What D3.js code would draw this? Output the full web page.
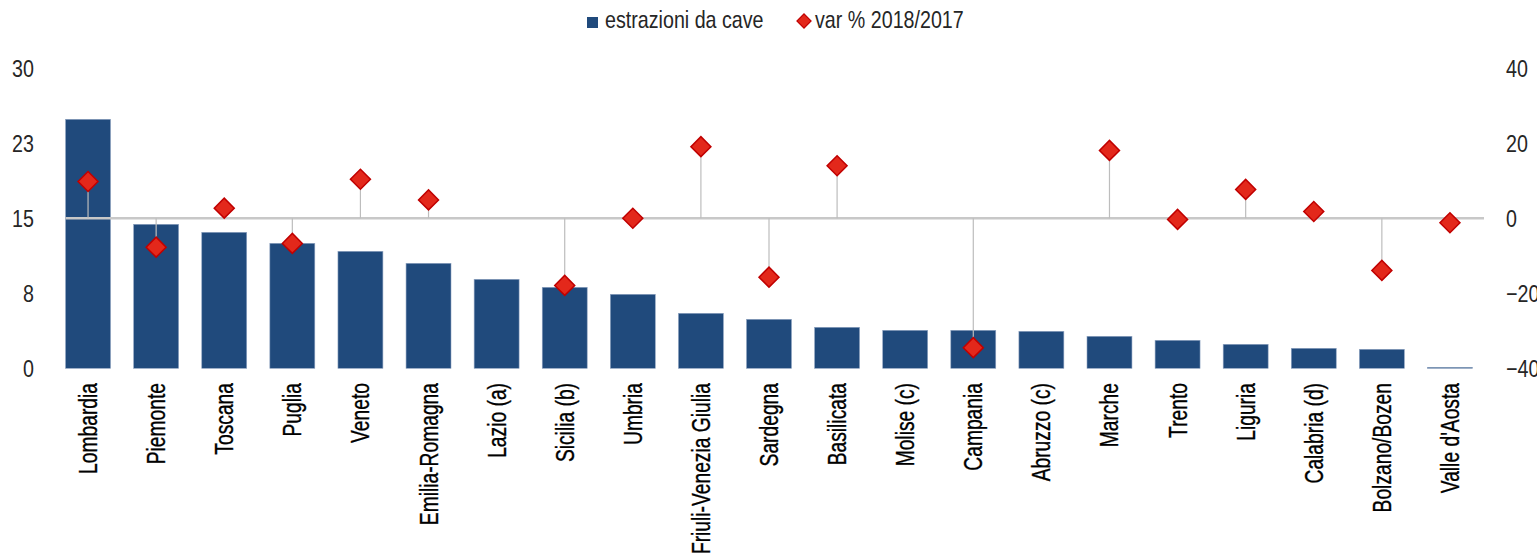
<!DOCTYPE html>
<html>
<head>
<meta charset="utf-8">
<script src="https://cdn.jsdelivr.net/npm/d3@7"></script>
<style>
  body { margin: 0; background: #fff; }
  text { font-family: "Liberation Sans", Arial, sans-serif; }
</style>
</head>
<body>
<div id="chart"></div>
<script>
// data
var regions = ["Lombardia", "Piemonte", "Toscana", "Puglia", "Veneto", "Emilia-Romagna",
  "Lazio (a)", "Sicilia (b)", "Umbria", "Friuli-Venezia Giulia", "Sardegna", "Basilicata",
  "Molise (c)", "Campania", "Abruzzo (c)", "Marche", "Trento", "Liguria", "Calabria (d)",
  "Bolzano/Bozen", "Valle d'Aosta"];
var estrazioni = [24.9, 14.4, 13.6, 12.5, 11.7, 10.5, 8.9, 8.1, 7.4, 5.5, 4.9, 4.1,
  3.8, 3.8, 3.7, 3.2, 2.8, 2.4, 2.0, 1.9, 0.1];
var variazione = [9.8, -7.7, 2.7, -6.7, 10.4, 4.9, null, -17.9, 0.0, 19.1, -15.7, 14.0,
  null, -34.5, null, 18.1, -0.3, 7.7, 1.8, -13.9, -1.2];
var leftTicks = [0, 7.5, 15, 22.5, 30];
var leftTickLabels = ["0", "8", "15", "23", "30"];
var rightTicks = [-40, -20, 0, 20, 40];
var legendLabels = ["estrazioni da cave", "var % 2018/2017"];

// size
var svgWidth = 1537;
var svgHeight = 556;
var narrow = 0.82; // Arial Narrow look

var plot = { left: 54, right: 1484, top: 68.3, bottom: 368.3 };

var svg = d3.select("#chart")
  .append("svg")
  .attr("width", svgWidth)
  .attr("height", svgHeight);

var xScale = d3.scaleBand()
  .domain(regions)
  .range([plot.left, plot.right])
  .paddingInner(0.34)
  .paddingOuter(0.17);

var yLeft = d3.scaleLinear().domain([0, 30]).range([plot.bottom, plot.top]);
var yRight = d3.scaleLinear().domain([-40, 40]).range([plot.bottom, plot.top]);

var rows = regions.map((r, i) => ({ region: r, est: estrazioni[i], vari: variazione[i] }));

// bars
svg.append("g")
  .selectAll("rect")
  .data(rows)
  .enter()
  .append("rect")
  .attr("x", d => xScale(d.region))
  .attr("width", xScale.bandwidth())
  .attr("y", d => yLeft(d.est))
  .attr("height", d => Math.max(1, yLeft(0) - yLeft(d.est)))
  .attr("fill", "#204a7c")
  .attr("stroke", "#8ea2c0")
  .attr("stroke-width", 0.6);

// zero line of right axis
svg.append("line")
  .attr("x1", xScale(regions[0]))
  .attr("x2", plot.right)
  .attr("y1", yRight(0))
  .attr("y2", yRight(0))
  .attr("stroke", "#c8c8c8")
  .attr("stroke-width", 2.5);

var pts = rows.filter(d => d.vari !== null);

// stems
svg.append("g")
  .selectAll("line")
  .data(pts)
  .enter()
  .append("line")
  .attr("x1", d => xScale(d.region) + xScale.bandwidth() / 2)
  .attr("x2", d => xScale(d.region) + xScale.bandwidth() / 2)
  .attr("y1", yRight(0))
  .attr("y2", d => yRight(d.vari))
  .attr("stroke", "#bdbdbd")
  .attr("stroke-width", 1.2);

// diamonds
var diamond = d3.symbol().type(d3.symbolSquare).size(200);
svg.append("g")
  .selectAll("path")
  .data(pts)
  .enter()
  .append("path")
  .attr("d", diamond)
  .attr("transform", d => `translate(${xScale(d.region) + xScale.bandwidth() / 2}, ${yRight(d.vari)}) rotate(45)`)
  .attr("fill", "#e3281b")
  .attr("stroke", "#c00000")
  .attr("stroke-width", 1.5);

// left axis
var leftAxis = d3.axisLeft(yLeft)
  .tickValues(leftTicks)
  .tickFormat((d, i) => leftTickLabels[i])
  .tickSize(0)
  .tickPadding(0);
var gl = svg.append("g")
  .attr("transform", "translate(34, 0)")
  .call(leftAxis);
gl.select(".domain").remove();
gl.selectAll("text")
  .attr("x", 0)
  .attr("dy", "0.36em")
  .attr("transform", `scale(${narrow}, 1)`)
  .attr("font-size", 24)
  .attr("font-family", "Liberation Sans, Arial, sans-serif")
  .attr("fill", "#262626");

// right axis
var rightAxis = d3.axisRight(yRight)
  .tickValues(rightTicks)
  .tickSize(0)
  .tickPadding(0);
var gr = svg.append("g")
  .attr("transform", "translate(1506, 0)")
  .call(rightAxis);
gr.select(".domain").remove();
gr.selectAll("text")
  .attr("x", 0)
  .attr("dy", "0.36em")
  .attr("transform", `scale(${narrow}, 1)`)
  .attr("font-size", 24)
  .attr("font-family", "Liberation Sans, Arial, sans-serif")
  .attr("fill", "#262626");

// category labels
svg.append("g")
  .selectAll("text")
  .data(regions)
  .enter()
  .append("text")
  .attr("transform", d => `translate(${xScale(d) + xScale.bandwidth() / 2}, 383) rotate(-90) scale(0.77, 1)`)
  .attr("text-anchor", "end")
  .attr("dy", "0.36em")
  .attr("font-size", 25)
  .attr("fill", "#000")
  .attr("stroke", "#000")
  .attr("stroke-width", 0.35)
  .text(d => d);

// legend
var legend = svg.append("g");
legend.append("rect")
  .attr("x", 587).attr("y", 17)
  .attr("width", 11).attr("height", 11)
  .attr("fill", "#204a7c");
legend.append("text")
  .attr("transform", `translate(605, 28) scale(${narrow}, 1)`)
  .attr("font-size", 24)
  .attr("fill", "#262626")
  .text(legendLabels[0]);
legend.append("path")
  .attr("d", d3.symbol().type(d3.symbolSquare).size(100))
  .attr("transform", "translate(804, 21) rotate(45)")
  .attr("fill", "#e3281b")
  .attr("stroke", "#c00000")
  .attr("stroke-width", 1.2);
legend.append("text")
  .attr("transform", `translate(815, 28) scale(${narrow}, 1)`)
  .attr("font-size", 24)
  .attr("fill", "#262626")
  .text(legendLabels[1]);
</script>
</body>
</html>
